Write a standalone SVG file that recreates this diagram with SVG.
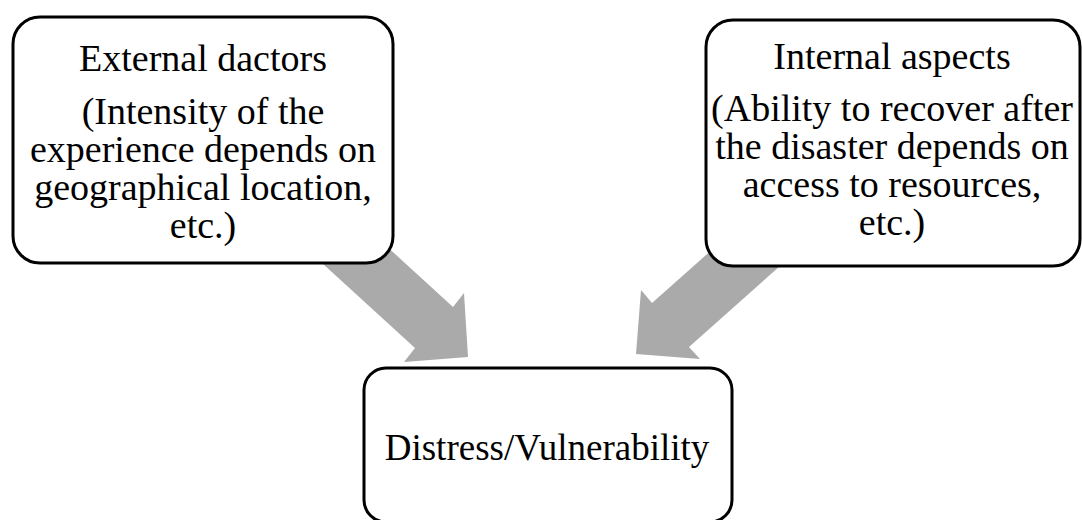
<svg xmlns="http://www.w3.org/2000/svg" width="1082" height="520" viewBox="0 0 1082 520">
<style>
.box{fill:#ffffff;stroke:#000000;stroke-width:3}
.arrow{fill:#aaaaaa;stroke:none}
text{font-family:"Liberation Serif","Times New Roman",serif;font-size:38px;fill:#000000;text-anchor:middle}
text.main{font-size:37px}
</style>
<rect width="1082" height="520" fill="#ffffff"/>
<g id="connectors">
<polygon class="arrow" points="253,200 336,200 453,307 464,293 468,357 404,362 415,348"/>
<polygon class="arrow" points="854,200 768,200 652,303 641,290 636,354 700,359 689,347"/>
</g>
<g id="node-external">
<rect class="box" x="13" y="17" width="380" height="246" rx="27" ry="27"/>
<text x="203" y="71">External dactors</text>
<text x="203" y="124">(Intensity of the</text>
<text x="203" y="162">experience depends on</text>
<text x="203" y="200">geographical location,</text>
<text x="203" y="238">etc.)</text>
</g>
<g id="node-internal">
<rect class="box" x="706" y="20" width="374" height="246" rx="27" ry="27"/>
<text x="892" y="69">Internal aspects</text>
<text x="892" y="121">(Ability to recover after</text>
<text x="892" y="159">the disaster depends on</text>
<text x="892" y="197">access to resources,</text>
<text x="892" y="235">etc.)</text>
</g>
<g id="node-distress">
<rect class="box" x="364" y="368" width="368" height="154" rx="22" ry="22"/>
<text class="main" x="547" y="460">Distress/Vulnerability</text>
</g>
</svg>
